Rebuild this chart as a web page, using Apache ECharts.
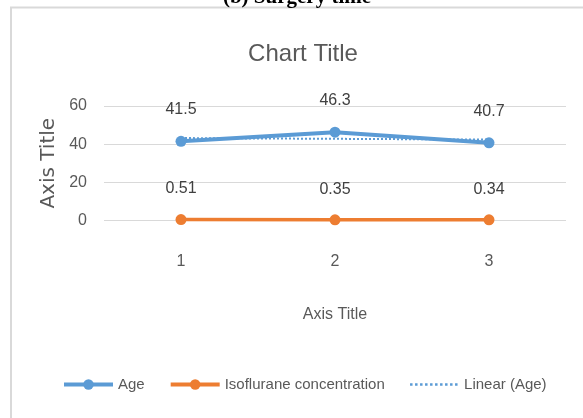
<!DOCTYPE html>
<html>
<head>
<meta charset="utf-8">
<script src="https://cdn.jsdelivr.net/npm/echarts@6/dist/echarts.min.js"></script>
<style>html,body{margin:0;padding:0;background:#fff;}#c{width:583px;height:418px;}</style>
</head>
<body>
<div id="c"></div>
<script>
var categories = ['1', '2', '3'];
var ageValues = [41.5, 46.3, 40.7];
var isoValues = [0.51, 0.35, 0.34];
var isoLabels = ['0.51', '0.35', '0.34'];
var trendValues = [43.2, 42.8, 42.4];
var yTicks = [0, 20, 40, 60];

var FONT = '"Liberation Sans", Arial, sans-serif';
var chart = echarts.init(document.getElementById('c'), null, {renderer: 'canvas'});
chart.setOption({
  animation: false,
  backgroundColor: '#ffffff',
  title: {
    text: 'Chart Title',
    left: 298, top: 37,
    textAlign: 'center',
    textStyle: {fontFamily: FONT, fontSize: 24, fontWeight: 'normal', color: '#595959'}
  },
  graphic: [
    {type: 'rect', z: -10, silent: true, shape: {x: 11, y: 7.5, width: 700, height: 600},
     style: {fill: 'none', stroke: '#d9d9d9', lineWidth: 2}},
    {type: 'text', z: 10, x: 297, y: 8, silent: true,
     style: {text: '(b) Surgery time', font: 'bold 21px "Liberation Serif", serif', fill: '#000',
             align: 'center', verticalAlign: 'bottom'}}
  ],
  legend: {
    left: 57, top: 372,
    itemWidth: 49, itemHeight: 13, itemGap: 24,
    textStyle: {fontFamily: FONT, fontSize: 15, color: '#595959'},
    data: [
      {name: 'Age', lineStyle: {width: 4}},
      {name: 'Isoflurane concentration', lineStyle: {width: 4}},
      {name: 'Linear (Age)', itemStyle: {opacity: 0}, lineStyle: {width: 2.5}}
    ]
  },
  grid: {left: 104, right: 17, top: 106, bottom: 197.5},
  xAxis: {
    type: 'category',
    data: categories,
    boundaryGap: true,
    name: 'Axis Title',
    nameLocation: 'middle',
    nameGap: 86,
    nameTextStyle: {fontFamily: FONT, fontSize: 16, color: '#595959'},
    axisLine: {show: false},
    axisTick: {show: false},
    axisLabel: {margin: 33, fontFamily: FONT, fontSize: 16, color: '#595959'}
  },
  yAxis: {
    type: 'value',
    min: 0, max: 60, interval: 20,
    name: 'Axis Title',
    nameLocation: 'middle',
    nameGap: 45,
    nameTextStyle: {fontFamily: '"DejaVu Sans", sans-serif', fontSize: 20, color: '#595959'},
    axisLine: {show: false},
    axisTick: {show: false},
    splitLine: {lineStyle: {color: '#d9d9d9', width: 1}},
    axisLabel: {margin: 17, fontFamily: FONT, fontSize: 16, color: '#595959',
      formatter: function (v) { return yTicks.indexOf(v) >= 0 ? String(v) : ''; }}
  },
  series: [
    {
      name: 'Linear (Age)', type: 'line', data: trendValues,
      symbol: 'none', z: 1,
      lineStyle: {color: '#5B9BD5', width: 2, type: 'dotted'},
      itemStyle: {color: '#5B9BD5'}
    },
    {
      name: 'Age', type: 'line', data: ageValues, z: 3,
      symbol: 'circle', symbolSize: 11,
      lineStyle: {color: '#5B9BD5', width: 4},
      itemStyle: {color: '#5B9BD5'},
      label: {show: true, position: 'top', distance: 18, fontFamily: FONT, fontSize: 16, color: '#404040'}
    },
    {
      name: 'Isoflurane concentration', type: 'line', data: isoValues, z: 3,
      symbol: 'circle', symbolSize: 11,
      lineStyle: {color: '#ED7D31', width: 3.5},
      itemStyle: {color: '#ED7D31'},
      label: {show: true, position: 'top', distance: 17, fontFamily: FONT, fontSize: 16, color: '#404040',
        formatter: function (p) { return isoLabels[p.dataIndex]; }}
    }
  ]
});
</script>
</body>
</html>
